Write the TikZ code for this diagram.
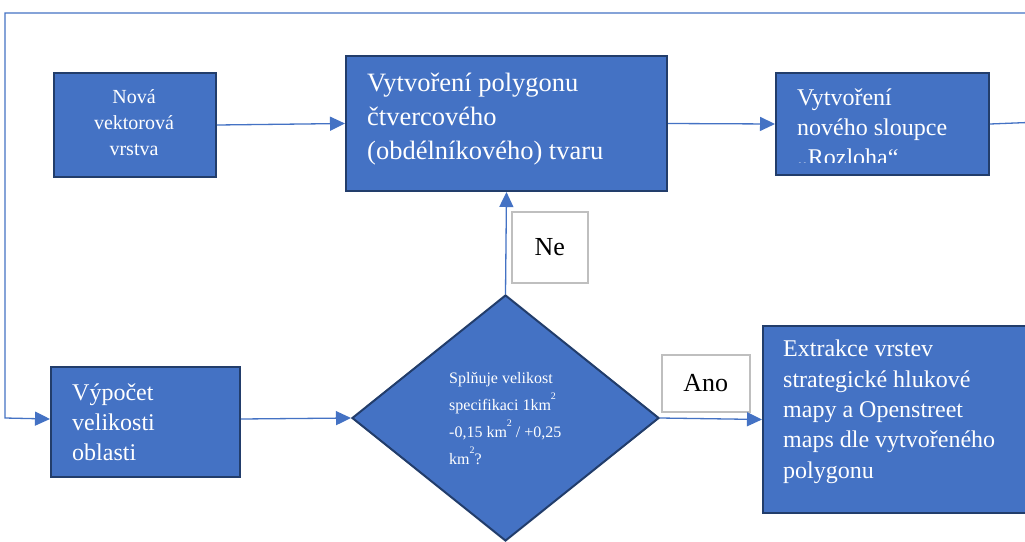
\documentclass[tikz,border=0pt]{standalone}
\usepackage{fontspec}
\setmainfont{Liberation Serif}
\usetikzlibrary{arrows.meta,shapes.geometric}
\definecolor{fillblue}{HTML}{4472C4}
\definecolor{edgeblue}{HTML}{223D6B}
\definecolor{lineblue}{HTML}{4472C4}
\definecolor{labgray}{HTML}{BFBFBF}
\newcommand{\sqsup}{\raisebox{1.4ex}{\fontsize{10}{10}\selectfont 2}}
\tikzset{
  box/.style={draw=edgeblue, fill=fillblue, line width=2pt, inner sep=0pt, anchor=north west},
  txt/.style={text=white, align=left, anchor=base west, inner sep=0pt},
  conn/.style={draw=lineblue, line width=1.3pt, -{Triangle[length=15pt,width=14pt]}},
  lab/.style={draw=labgray, fill=white, line width=1.5pt, inner sep=0pt, anchor=north west,
    font=\fontsize{26}{30}\selectfont, text=black},
}
\begin{document}
\begin{tikzpicture}[x=1pt,y=-1pt]
\clip (0,0) rectangle (1025,541);
\fill[white] (0,0) rectangle (1025,541);

% boxes
\node[box, minimum width=162pt, minimum height=104pt] (nova) at (53,72) {};
\node[box, minimum width=321pt, minimum height=135pt] (poly) at (345,55) {};
\node[box, minimum width=213pt, minimum height=102pt] (sloup) at (775,72) {};
\node[box, minimum width=189pt, minimum height=110pt] (vyp) at (50,366) {};
\node[box, minimum width=320pt, minimum height=187pt] (extr) at (762,325) {};
\node[diamond, draw=edgeblue, fill=fillblue, line width=2pt, inner sep=0pt,
      minimum width=307pt, minimum height=246pt] (dia) at (505.5,418) {};
\node[lab, minimum width=76pt, minimum height=71pt] (ne) at (511,211) {Ne};
\node[lab, minimum width=88pt, minimum height=57pt] (ano) at (661,354) {Ano};

% texts (anchored at the baseline of the last line)
\node[txt, align=center, anchor=base, font=\fontsize{20}{26}\selectfont] (tnova) at (134,155) {Nová\\vektorová\\vrstva};
\node[txt, font=\fontsize{26.5}{34}\selectfont] (tpoly) at (367,159) {Vytvoření polygonu\\čtvercového\\(obdélníkového) tvaru};
\begin{scope}
  \clip (777,74) rectangle (986,162);
  \node[txt, font=\fontsize{24}{30}\selectfont] (tsloup) at (797,165) {Vytvoření\\nového sloupce\\„Rozloha“};
\end{scope}
\node[txt, font=\fontsize{24}{30}\selectfont] (tvyp) at (72,460) {Výpočet\\velikosti\\oblasti};
\node[txt, font=\fontsize{16}{27}\selectfont] (tdia) at (449,464) {Splňuje velikost\\specifikaci 1km\sqsup\\-0,15 km\sqsup\ / +0,25\\km\sqsup?};
\node[txt, font=\fontsize{24}{30.3}\selectfont] (textr) at (783,478) {Extrakce vrstev\\strategické hlukové\\mapy a Openstreet\\maps dle vytvořeného\\polygonu};

% connectors
\coordinate (loopA) at (1040,122);
\coordinate (loopB) at (1040,13);
\coordinate (loopC) at (5,13);
\coordinate (loopD) at (5,418);
\draw[conn] (sloup.east) -- (loopA) -- (loopB) -- (loopC) -- (loopD) -- ([yshift=3pt]vyp.west);
\draw[conn] (nova.east) -- (poly.west);
\draw[conn] (poly.east) -- (sloup.west);
\draw[conn] ([yshift=3pt]vyp.east) -- (dia.west);
\draw[conn] (dia.north) -- (poly.south);
\draw[conn] (dia.east) -- (extr.west);
\end{tikzpicture}
\end{document}
